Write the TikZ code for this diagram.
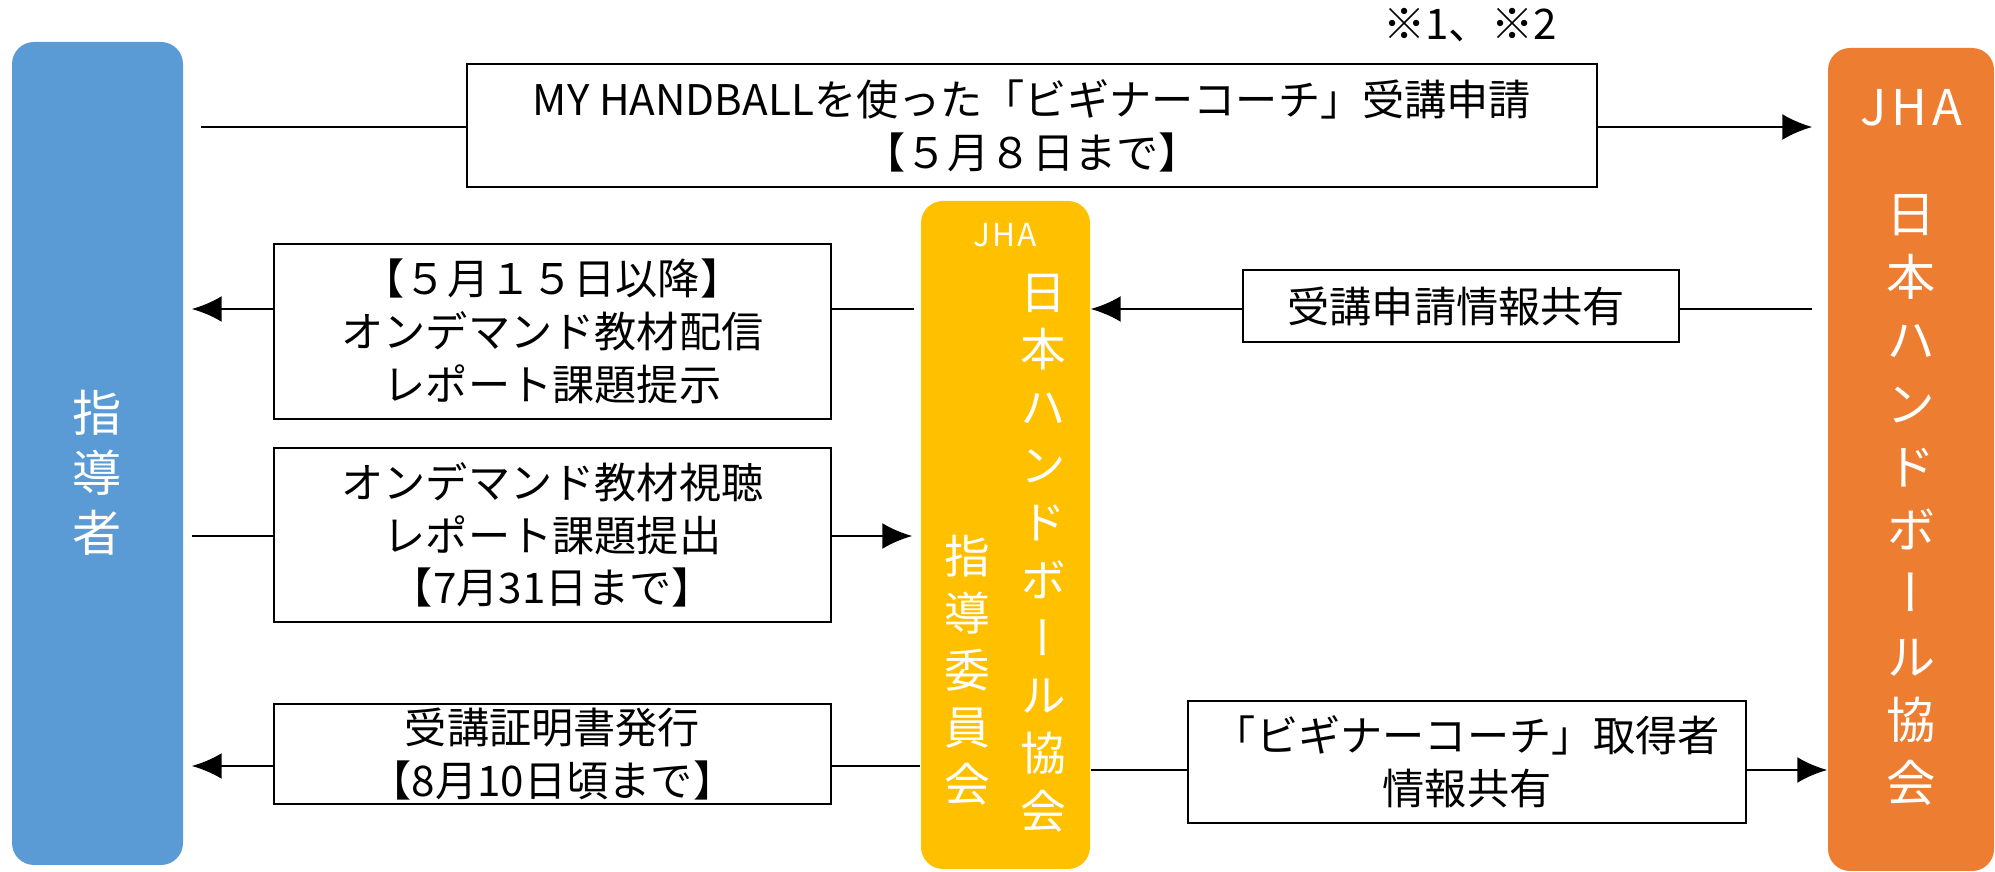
\documentclass[tikz,border=0pt]{standalone}
\usepackage{fontspec}
\usepackage{tikz}
\usetikzlibrary{calc,arrows.meta}
\setmainfont{Noto Sans CJK JP}
\newfontfamily\tatefont[RawFeature=+vert]{Noto Sans CJK JP}
\definecolor{leadblue}{HTML}{5B9BD5}
\definecolor{jhaorange}{HTML}{ED7D31}
\definecolor{jhayellow}{HTML}{FFC000}
\newcommand\mainsize{\fontsize{12}{15}\selectfont}
\newcommand\tatesize[2]{\tatefont\fontsize{#1}{#2}\selectfont}
\tikzstyle{whitebox}=[rectangle,draw=black,fill=white,line width=0.8pt,
                      align=center,font=\mainsize,inner sep=0pt]
\tikzstyle{bigbox}=[rectangle,rounded corners=0.22cm,draw=none,inner sep=0pt]
\tikzstyle{tate}=[align=center,text=white,inner sep=0pt]
\tikzstyle{conn}=[line width=0.8pt]
\tikzstyle{arrowline}=[line width=0.8pt,-{Latex[length=0.3cm,width=0.26cm]}]

\begin{document}
\begin{tikzpicture}
    	\useasboundingbox (0,0) rectangle (19.95,8.72);
    	% row levels
    	\coordinate (r1) at (0,7.45);
    	\coordinate (r2) at (0,5.63);
    	\coordinate (r3) at (0,3.36);
    	\coordinate (r4) at (0,1.06);
    	\coordinate (r4b) at (0,1.02);

    	% the three parties
    	\node [bigbox,fill=leadblue,minimum width=1.71cm,minimum height=8.23cm] (lead) at (0.975,4.185) {};
    	\node [tate,font=\tatesize{14}{17}] (leadlabel) at (0.975,3.99) {指\\導\\者};
    	\node [bigbox,fill=jhayellow,minimum width=1.69cm,minimum height=6.68cm] (jhac) at (10.055,3.37) {};
    	\node [tate,font=\fontsize{9}{11}\selectfont\addfontfeature{LetterSpace=6}] (jhaclabel) at (10.05,6.37) {JHA};
    	\node [tate,font=\tatesize{13}{16.4}] (jhacname) at (10.43,3.19) {日\\本\\ハ\\ン\\ド\\ボ\\ー\\ル\\協\\会};
    	\node [tate,font=\tatesize{13}{16.2}] (jhaccomm) at (9.67,2.02) {指\\導\\委\\員\\会};
    	\node [bigbox,fill=jhaorange,minimum width=1.66cm,minimum height=8.23cm] (jha) at (19.11,4.125) {};
    	\node [tate,font=\fontsize{14}{17}\selectfont\addfontfeature{LetterSpace=10}] (jhalabel) at (19.11,7.64) {JHA};
    	\node [tate,font=\tatesize{14}{18}] (jhaname) at (19.11,3.72) {日\\本\\ハ\\ン\\ド\\ボ\\ー\\ル\\協\\会};

    	% steps
    	\node [font=\mainsize,inner sep=0pt] (note) at (14.70,8.47) {※1、※2};
    	\node [whitebox,minimum width=11.30cm,minimum height=1.23cm] (apply) at (10.32,7.465) {
    		MY HANDBALLを使った「ビギナーコーチ」受講申請\\【５月８日まで】
    	};
    	\node [whitebox,minimum width=5.57cm,minimum height=1.75cm] (deliver) at (5.525,5.405) {
    		【５月１５日以降】\\オンデマンド教材配信\\レポート課題提示
    	};
    	\node [whitebox,minimum width=4.36cm,minimum height=0.72cm] (share) at (14.61,5.66) {
    		受講申請情報共有
    	};
    	\node [whitebox,minimum width=5.57cm,minimum height=1.74cm] (submit) at (5.525,3.37) {
    		オンデマンド教材視聴\\レポート課題提出\\【7月31日まで】
    	};
    	\node [whitebox,minimum width=5.57cm,minimum height=1.00cm] (cert) at (5.525,1.18) {
    		受講証明書発行\\【8月10日頃まで】
    	};
    	\node [whitebox,minimum width=5.58cm,minimum height=1.22cm] (gotten) at (14.67,1.10) {
    		「ビギナーコーチ」取得者\\情報共有
    	};

    	% connectors
    	\draw [conn,shorten <=0.17cm] (lead.east |- r1) -- (apply.west |- r1);
    	\draw [arrowline,shorten >=0.15cm] (apply.east |- r1) -- (jha.west |- r1);
    	\draw [conn,shorten <=0.06cm] (jhac.west |- r2) -- (deliver.east |- r2);
    	\draw [arrowline,shorten >=0.08cm] (deliver.west |- r2) -- (lead.east |- r2);
    	\draw [conn,shorten <=0.15cm] (jha.west |- r2) -- (share.east |- r2);
    	\draw [arrowline] (share.west |- r2) -- (jhac.east |- r2);
    	\draw [conn,shorten <=0.08cm] (lead.east |- r3) -- (submit.west |- r3);
    	\draw [arrowline,shorten >=0.08cm] (submit.east |- r3) -- (jhac.west |- r3);
    	\draw [conn] (jhac.west |- r4) -- (cert.east |- r4);
    	\draw [arrowline,shorten >=0.08cm] (cert.west |- r4) -- (lead.east |- r4);
    	\draw [conn] (jhac.east |- r4b) -- (gotten.west |- r4b);
    	\draw [arrowline] (gotten.east |- r4b) -- (jha.west |- r4b);
    \end{tikzpicture}
\end{document}
